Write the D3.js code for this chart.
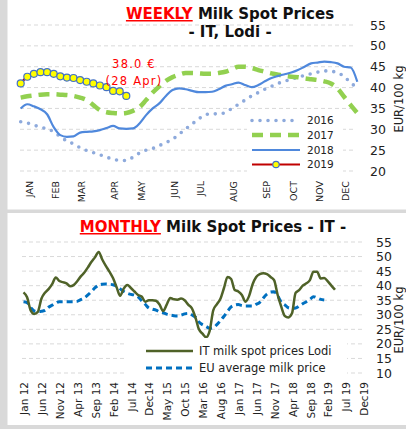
<!DOCTYPE html>
<html>
<head>
<meta charset="utf-8">
<script src="https://cdnjs.cloudflare.com/ajax/libs/d3/7.8.5/d3.min.js"></script>
<style>
body { margin:0; background:#d9d9d9; }
svg { display:block; font-family:"DejaVu Sans", Verdana, sans-serif; }
</style>
</head>
<body>
<script>
// ---- weekly data (EUR/100 kg), week index 0..51
var y2016 = [31.8,31.5,31.0,30.5,30.1,29.4,28.2,27.2,26.5,25.6,24.9,24.4,23.9,23.3,22.9,22.5,22.5,23.3,24.3,25.0,
             25.4,26.1,26.8,27.6,28.8,30.1,31.3,32.5,33.5,33.7,33.7,34.0,35.0,36.0,37.0,38.0,38.8,39.6,40.3,41.0,
             41.5,42.0,42.5,42.9,43.3,43.7,44.0,43.9,43.6,42.6,41.2,39.8];
var y2017 = [37.6,37.9,38.1,38.3,38.4,38.4,38.3,38.2,38.0,37.6,37.0,35.8,34.6,34.1,33.9,33.8,33.9,34.4,35.3,37.0,
             38.8,40.3,41.6,42.5,43.1,43.5,43.5,43.4,43.3,43.3,43.5,43.8,44.4,45.0,45.0,44.7,44.2,43.8,43.4,43.1,
             42.8,42.6,42.5,42.2,42.0,41.8,41.5,41.0,39.8,37.8,35.8,33.9];
var y2018 = [35.0,36.0,35.5,34.8,33.6,30.5,28.6,28.2,28.3,29.2,29.4,29.5,29.8,30.3,30.8,30.2,30.1,30.2,31.4,33.4,
             35.0,36.2,38.0,39.4,39.8,39.6,39.2,38.9,38.9,39.0,39.6,40.4,40.8,41.2,40.6,40.1,40.6,41.5,42.3,42.8,
             43.2,43.6,44.2,45.0,45.8,46.0,46.2,46.1,45.8,45.0,44.8,41.4];
var y2019 = [41.0,42.6,43.3,43.7,43.7,43.3,42.7,42.4,42.3,41.8,41.4,41.0,40.5,40.1,39.2,39.1,38.0];
var weekSeries = ["2016","2017","2018","2019"];
var monthNames = ["JAN","FEB","MAR","APR","MAY","JUN","JUL","AUG","SEP","OCT","NOV","DEC"];
var monthWeeks = [1,5,9,14,18,23,27,32,37,41,45,49];
var weeklyTicks = [20,25,30,35,40,45,50,55];

// ---- monthly data, Jan 12 ..
var itLodi = [37.7,36.0,31.5,30.3,31.0,35.5,37.6,38.8,40.5,42.8,41.6,41.2,
              40.8,39.8,40.2,41.5,43.2,44.5,46.3,48.2,49.8,51.6,49.0,46.8,
              44.8,42.6,39.5,36.5,39.0,40.2,39.2,38.0,36.8,36.3,34.5,35.0,
              35.0,34.8,33.5,31.3,33.5,35.8,35.3,35.2,35.6,35.0,33.5,32.3,
              29.2,25.0,23.5,22.3,24.5,31.5,33.6,35.5,39.2,43.0,42.3,38.5,
              38.0,36.8,34.5,36.4,40.5,43.0,44.0,44.3,44.0,43.0,41.9,36.8,
              32.8,29.6,29.1,30.5,37.5,38.5,40.0,40.8,41.9,44.8,44.8,42.5,
              42.6,41.5,40.0,38.6];
var euAvg = [34.5,34.2,32.5,31.3,31.1,31.2,31.5,32.6,33.3,34.0,34.5,34.5,
             34.5,34.5,34.5,34.6,35.2,35.8,36.8,38.0,39.3,40.2,40.5,40.6,
             40.5,40.3,39.8,38.9,38.0,37.4,37.0,36.8,36.2,34.8,33.6,32.3,
             31.9,31.6,31.0,30.7,30.2,29.9,29.7,29.6,29.9,30.3,30.5,30.0,
             29.2,27.5,26.6,26.0,25.4,25.6,26.6,28.0,29.5,31.2,32.7,33.3,
             33.5,33.2,33.0,33.0,33.0,33.6,34.3,35.8,37.1,37.8,37.9,36.5,
             34.3,33.4,32.4,32.2,32.3,33.0,33.8,34.5,35.3,36.2,35.8,35.3,
             35.1];
var monthLabels = ["Jan 12","Jun 12","Nov 12","Apr 13","Sep 13","Feb 14","Jul 14","Dec14","May 15","Oct 15",
                   "Mar 16","Aug 16","Jan 17","Jun 17","Nov 17","Apr 18","Sep 18","Feb 19","Jul 19","Dec19"];
var monthlyTicks = [10,15,20,25,30,35,40,45,50,55];

var svg = d3.select("body").append("svg").attr("width", 406).attr("height", 429);

// panels
svg.append("rect").attr("x", 7.5).attr("y", 0).attr("width", 400).attr("height", 209.5).attr("fill", "#fff");
svg.append("rect").attr("x", 7.5).attr("y", 213).attr("width", 400).attr("height", 212).attr("fill", "#fff");

//================ WEEKLY chart ================
var xW = d3.scaleLinear().domain([0, 51]).range([20.7, 357.3]);
var yW = d3.scaleLinear().domain([20, 55]).range([171, 25]);

var gTop = svg.append("g");

// grid
gTop.selectAll(".gw").data(weeklyTicks).enter().append("line")
   .attr("x1", 20).attr("x2", 356)
   .attr("y1", function(d){ return yW(d); }).attr("y2", function(d){ return yW(d); })
   .attr("stroke", "#d9d9d9").attr("stroke-width", 1).attr("stroke-dasharray", "4,3");

// right axis
gTop.append("g").attr("transform", "translate(370,0)")
   .call(d3.axisRight(yW).tickValues(weeklyTicks).tickSize(0).tickPadding(0))
   .call(function(g){ g.select(".domain").remove(); })
   .selectAll("text").attr("font-size", 12.5).attr("fill", "#222")
   .attr("font-family", "DejaVu Sans");

// month labels
gTop.append("g").attr("transform", "translate(0,181)")
   .call(d3.axisBottom(xW).tickValues(monthWeeks).tickSize(0).tickFormat(function(d, i){ return monthNames[i]; }))
   .call(function(g){ g.select(".domain").remove(); })
   .selectAll("text").attr("font-size", 9.5).attr("fill", "#222").attr("font-family", "DejaVu Sans")
   .attr("transform", "rotate(-90)").attr("text-anchor", "end")
   .attr("x", 0).attr("y", 1.5).attr("dy", "0.35em");

var lineW = d3.line().x(function(d, i){ return xW(i); }).y(function(d){ return yW(d); }).curve(d3.curveMonotoneX);

gTop.append("path").attr("d", lineW(y2016)).attr("fill", "none")
   .attr("stroke", "#8eaadc").attr("stroke-width", 3.6).attr("stroke-linecap", "round").attr("stroke-dasharray", "0,8");
gTop.append("path").attr("d", lineW(y2017)).attr("fill", "none")
   .attr("stroke", "#92d050").attr("stroke-width", 4.5).attr("stroke-dasharray", "11,7");
gTop.append("path").attr("d", lineW(y2018)).attr("fill", "none")
   .attr("stroke", "#4f88dc").attr("stroke-width", 2.2);
gTop.append("path").attr("d", lineW(y2019)).attr("fill", "none")
   .attr("stroke", "#c00000").attr("stroke-width", 2.2);
gTop.selectAll(".m19").data(y2019).enter().append("circle")
   .attr("cx", function(d, i){ return xW(i); }).attr("cy", function(d){ return yW(d); })
   .attr("r", 3.5).attr("fill", "#ffff00").attr("stroke", "#4472c4").attr("stroke-width", 1.2);

// last value label
gTop.append("text").attr("x", 134).attr("y", 68).attr("text-anchor", "middle")
   .attr("font-size", 11.5).attr("letter-spacing", 1.2).attr("fill", "#ff0000")
   .text(y2019[y2019.length - 1].toFixed(1) + " €");
gTop.append("text").attr("x", 134).attr("y", 85).attr("text-anchor", "middle")
   .attr("font-size", 11.5).attr("letter-spacing", 1.2).attr("fill", "#ff0000")
   .text("(28 Apr)");

// title
var t1 = gTop.append("text").attr("x", 230).attr("y", 19).attr("text-anchor", "middle")
   .attr("font-size", 15).attr("font-weight", "bold");
t1.append("tspan").attr("fill", "#ff0000").attr("text-decoration", "underline").text("WEEKLY");
t1.append("tspan").attr("fill", "#111").text(" Milk Spot Prices");
gTop.append("text").attr("x", 230).attr("y", 37).attr("text-anchor", "middle")
   .attr("font-size", 15).attr("font-weight", "bold").attr("fill", "#111").text("- IT, Lodi -");

// y title
gTop.append("text").attr("transform", "translate(402.5,99) rotate(-90)").attr("text-anchor", "middle")
   .attr("font-size", 11.5).attr("fill", "#222").text("EUR/100 kg");

// legend
var lg = gTop.append("g");
lg.append("rect").attr("x", 247).attr("y", 112).attr("width", 96).attr("height", 64).attr("fill", "#fff");
var legY = [120.5, 135, 150, 164.5];
var legStyle = [
  {c:"#8eaadc", w:3.6, dash:"0,8", cap:"round"},
  {c:"#92d050", w:4.5, dash:"11,7", cap:"butt"},
  {c:"#4f88dc", w:2.2, dash:null, cap:"butt"},
  {c:"#c00000", w:2.2, dash:null, cap:"butt"}
];
weekSeries.forEach(function(s, i){
  lg.append("line").attr("x1", 252).attr("x2", 300).attr("y1", legY[i]).attr("y2", legY[i])
    .attr("stroke", legStyle[i].c).attr("stroke-width", legStyle[i].w)
    .attr("stroke-dasharray", legStyle[i].dash).attr("stroke-linecap", legStyle[i].cap);
  lg.append("text").attr("x", 307).attr("y", legY[i]).attr("dy", "0.36em")
    .attr("font-size", 10.5).attr("fill", "#222").text(s);
});
lg.append("circle").attr("cx", 276).attr("cy", legY[3]).attr("r", 3.2)
  .attr("fill", "#ffff00").attr("stroke", "#4472c4").attr("stroke-width", 1.2);

//================ MONTHLY chart ================
var xM = d3.scaleLinear().domain([0, 95]).range([23.5, 363.6]);
var yM = d3.scaleLinear().domain([10, 55]).range([373, 242]);

var gBot = svg.append("g");

gBot.selectAll(".gm").data(monthlyTicks).enter().append("line")
   .attr("x1", 22).attr("x2", 364)
   .attr("y1", function(d){ return yM(d); }).attr("y2", function(d){ return yM(d); })
   .attr("stroke", "#d9d9d9").attr("stroke-width", 1).attr("stroke-dasharray", "4,3");

gBot.append("g").attr("transform", "translate(376,0)")
   .call(d3.axisRight(yM).tickValues(monthlyTicks).tickSize(0).tickPadding(0))
   .call(function(g){ g.select(".domain").remove(); })
   .selectAll("text").attr("font-size", 12.5).attr("fill", "#222").attr("font-family", "DejaVu Sans");

gBot.append("g").attr("transform", "translate(0,382)")
   .call(d3.axisBottom(xM).tickValues(d3.range(0, 96, 5)).tickSize(0).tickFormat(function(d, i){ return monthLabels[i]; }))
   .call(function(g){ g.select(".domain").remove(); })
   .selectAll("text").attr("font-size", 10.5).attr("fill", "#222").attr("font-family", "DejaVu Sans")
   .attr("transform", "rotate(-90)").attr("text-anchor", "end")
   .attr("x", 0).attr("y", 0.5).attr("dy", "0.35em");

var lineM = d3.line().x(function(d, i){ return xM(i); }).y(function(d){ return yM(d); }).curve(d3.curveMonotoneX);

gBot.append("path").attr("d", lineM(euAvg)).attr("fill", "none")
   .attr("stroke", "#0070c0").attr("stroke-width", 3).attr("stroke-dasharray", "6,4");
gBot.append("path").attr("d", lineM(itLodi)).attr("fill", "none")
   .attr("stroke", "#4f6228").attr("stroke-width", 2.5);

var t2 = gBot.append("text").attr("x", 213).attr("y", 232).attr("text-anchor", "middle")
   .attr("font-size", 15).attr("font-weight", "bold");
t2.append("tspan").attr("fill", "#ff0000").attr("text-decoration", "underline").text("MONTHLY");
t2.append("tspan").attr("fill", "#111").text(" Milk Spot Prices - IT -");

gBot.append("text").attr("transform", "translate(402.5,320) rotate(-90)").attr("text-anchor", "middle")
   .attr("font-size", 11.5).attr("fill", "#222").text("EUR/100 kg");

var lm = gBot.append("g");
lm.append("rect").attr("x", 127).attr("y", 338).attr("width", 220).attr("height", 42).attr("fill", "#fff");
lm.append("line").attr("x1", 146).attr("x2", 193).attr("y1", 351).attr("y2", 351)
  .attr("stroke", "#4f6228").attr("stroke-width", 2.5);
lm.append("text").attr("x", 199).attr("y", 351).attr("dy", "0.36em").attr("font-size", 11.5)
  .attr("fill", "#222").text("IT milk spot prices Lodi");
lm.append("line").attr("x1", 146).attr("x2", 193).attr("y1", 368).attr("y2", 368)
  .attr("stroke", "#0070c0").attr("stroke-width", 3).attr("stroke-dasharray", "6,4");
lm.append("text").attr("x", 199).attr("y", 368).attr("dy", "0.36em").attr("font-size", 11.5)
  .attr("fill", "#222").text("EU average milk price");
</script>
</body>
</html>
